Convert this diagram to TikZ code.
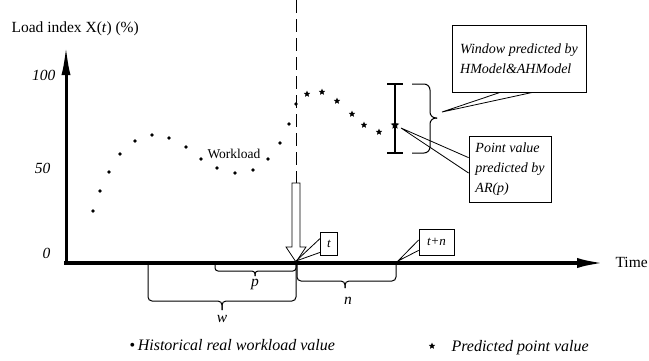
\documentclass[tikz,border=0pt]{standalone}
\usepackage{fontspec}
\setmainfont{Liberation Serif}
\usetikzlibrary{arrows.meta,calc,shapes.geometric}
\newcommand{\lblfont}{\fontsize{15.5}{18}\selectfont}
\newcommand{\boxfont}{\fontsize{14}{20}\selectfont\itshape}
\tikzset{
  histpt/.style={circle,fill,inner sep=0pt,minimum size=3.6pt},
  predpt/.style={star,star points=5,star point ratio=2.2,fill,inner sep=0pt,minimum size=6.8pt},
  callbox/.style={draw,fill=white,line width=0.8pt,align=left,font=\boxfont,inner sep=2pt},
  tickbox/.style={draw,fill=white,line width=0.8pt,inner sep=1pt,font=\fontsize{13}{15}\selectfont\itshape},
  brc/.style={rounded corners=4pt,line width=1pt},
  pointer/.style={line width=0.8pt},
}

\begin{document}
\begin{tikzpicture}[x=1pt,y=-1pt,font=\lblfont]
   \useasboundingbox (0,0) rectangle (649,360);
   \draw[line width=3pt,-{Latex[length=30pt,width=9pt]}] (66,265) -- (66,45);
   \draw[line width=4pt,-{Latex[length=30pt,width=10pt]}] (64,263) -- (607,263);
   \node[anchor=base west] (ylab) at (8,32) {Load index X(\textit{t}) (\%)};
   \node[anchor=west] (xlab) at (612,262) {Time};
   \node[anchor=base east] (y100) at (59,80) {\textit{100}};
   \node[anchor=base east] (y50) at (54,173) {\textit{50}};
   \node[anchor=base east] (y0) at (54,258) {\textit{0}};
   % workload samples
   \foreach \x/\y [count=\i] in {93/211,100/191,109/172,120/154,135/141,152/135,169/138,186/147,
                                 201/159,217/168,235/173,253/170,268/159,280/143,289/124,296/104}
      \node[histpt] (h\i) at (\x,\y) {};
   \foreach \x/\y [count=\i] in {307/94,322/92,337/101,352/114,364/125,379/132}
      \node[predpt] (s\i) at (\x,\y) {};
   \node[anchor=base west,font=\fontsize{13.5}{16}\selectfont] (wl) at (204,158) {Workload};
   % current time
   \draw[dash pattern=on 13pt off 6pt,line width=0.8pt] (296,0) -- (296,183);
   \draw[line width=0.8pt,fill=white] (292,183) -- (300,183) -- (300,247) -- (306,247)
      -- (296,262) -- (286,247) -- (292,247) -- cycle;
   \coordinate (now) at (296,261);
   \coordinate (later) at (398,261);
   \node[tickbox,minimum width=17pt,minimum height=23pt] (tbox) at (329,243.5) {t};
   \node[tickbox,minimum width=35pt,minimum height=26pt] (tnbox) at (436.5,242) {t+n};
   \draw[pointer] ([yshift=5pt]tbox.west) -- (now) -- ([yshift=3pt]tbox.south west);
   \draw[pointer] ([yshift=2pt]tnbox.west) -- (later) -- ([yshift=5pt]tnbox.south west);
   % windows below the axis
   \draw[brc,rounded corners=3pt] (215,265) |- (255,271) -- (255,276);
   \draw[brc,rounded corners=3pt] (296,265) |- (255,271) -- (255,276);
   \draw[brc] (148,265) |- (222,301) -- (222,310);
   \draw[brc] (296,265) |- (222,301) -- (222,310);
   \draw[brc] (297,265) |- (345,281) -- (345,288);
   \draw[brc] (396,265) |- (345,281) -- (345,288);
   \node (plab) at (255,284) {\textit{p}};
   \node (wlab) at (222,319) {\textit{w}};
   \node (nlab) at (348,301) {\textit{n}};
   % predicted window
   \draw[line width=1.5pt] (395,84) -- (395,153);
   \draw[line width=1.5pt] (387,84) -- (403,84);
   \draw[line width=1.5pt] (387,153) -- (403,153);
   \node[predpt,minimum size=9pt] (sAR) at (395,125) {};
   \draw[brc,rounded corners=6pt] (412,84) -| (430,118) -- (437,118);
   \draw[brc,rounded corners=6pt] (412,153) -| (430,118) -- (437,118);
   \coordinate (winTip) at (442,112);
   \coordinate (arTip) at (401,128);
   \node[callbox,minimum width=134pt,minimum height=67pt] (win) at (519,58.5)
      {Window predicted by\\HModel\&AHModel};
   \node[callbox,minimum width=82pt,minimum height=66pt] (arp) at (510,169)
      {Point value\\predicted by\\AR(p)};
   \draw[pointer] ($(win.south west)!0.36!(win.south east)$) -- (winTip)
      -- ($(win.south west)!0.6!(win.south east)$);
   \draw[pointer] ($(arp.north west)!0.33!(arp.south west)$) -- (arTip)
      -- ($(arp.north west)!0.56!(arp.south west)$);
   % legend
   \node[anchor=base west,font=\fontsize{16}{18}\selectfont] (leg1) at (126,350)
      {\textbullet\,\textit{Historical real workload value}};
   \node[predpt] (legstar) at (432,346) {};
   \node[anchor=base west,font=\fontsize{16}{18}\selectfont] (leg2) at (448,351)
      {\textit{Predicted point value}};
\end{tikzpicture}
\end{document}
